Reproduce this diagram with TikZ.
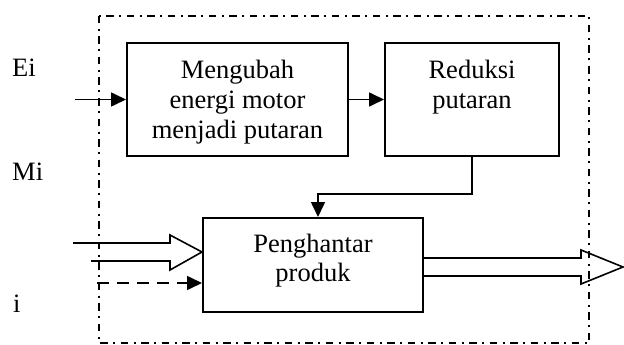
\documentclass[tikz,border=0pt]{standalone}
\usepackage{fontspec}
\setmainfont{Liberation Serif}
\usetikzlibrary{arrows.meta,calc}
\begin{document}
\begin{tikzpicture}[x=1pt,y=-1pt,
  box/.style={draw,line width=2pt,inner sep=0pt},
  txt/.style={font=\fontsize{26.5}{29.5}\selectfont,align=center,inner sep=0pt,anchor=base},
  lbl/.style={font=\fontsize{26.5}{29.5}\selectfont,inner sep=0pt,anchor=base west},
  arr/.style={line width=1.6pt,-{Triangle[length=15pt,width=14pt]}},
  dasharr/.style={arr,dash pattern=on 12pt off 8pt},
  frame/.style={line width=1.5pt,dash pattern=on 7.5pt off 5.5pt on 2pt off 5.5pt},
  hollow/.style={line width=1.6pt,line join=miter}]
\useasboundingbox (0,0) rectangle (624,345);
\draw[frame] (99,16) rectangle (589,343);
\node[box,minimum width=221pt,minimum height=113pt] (b1) at (237.5,99.5) {};
\node[box,minimum width=174pt,minimum height=113pt] (b2) at (472,99.5) {};
\node[box,minimum width=220pt,minimum height=94pt] (b3) at (313,265) {};
\node[txt] (t1) at (237.5,138) {Mengubah\\energi motor\\menjadi putaran};
\node[txt] (t2) at (472,108.5) {Reduksi\\putaran};
\node[txt] (t3) at (313,281.5) {Penghantar\\produk};
\node[lbl] (ei) at (12,77) {Ei};
\node[lbl] (mi) at (12,180) {Mi};
\node[lbl] (ii) at (13,312) {i};
\coordinate (eistart) at (75,99.5);
\draw[arr] (eistart) -- (b1.west);
\draw[arr] (b1.east) -- (b2.west);
\draw[arr] (b2.south) -- ++(0,37) -| ($(b3.north west)+(116,0)$);
\coordinate (dstart) at (97,283);
\draw[dasharr] (dstart) -- (dstart -| b3.west);
\coordinate (htip) at ($(b3.west)+(0,-13)$);
\draw[hollow] ($(htip)+(-129,-9)$) -- ($(htip)+(-32,-9)$) -- ($(htip)+(-32,-17)$) -- (htip) -- ($(htip)+(-32,18)$) -- ($(htip)+(-32,9)$) -- ($(htip)+(-111,9)$);
\draw[hollow] ($(b3.east)+(0,-7)$) -- ++(157,0) -- ++(0,-8) -- ($(b3.east)+(199,2)$) -- ($(b3.east)+(157,19)$) -- ++(0,-8) -- ($(b3.east)+(0,11)$);
\end{tikzpicture}
\end{document}
